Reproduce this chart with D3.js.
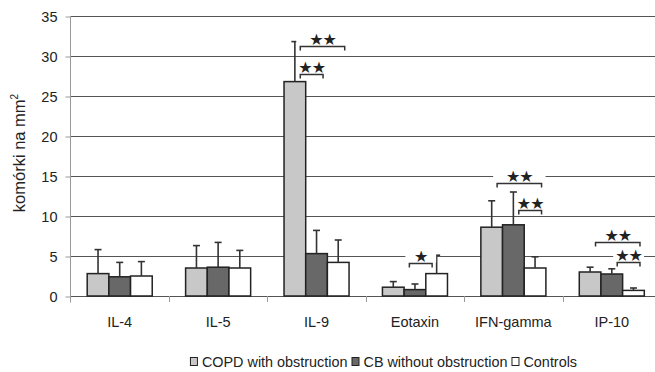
<!DOCTYPE html>
<html>
<head>
<meta charset="utf-8">
<script src="https://cdn.jsdelivr.net/npm/d3@7"></script>
<style>
  body { margin: 0; background: #fff; }
  text { font-family: "Liberation Sans", Arial, sans-serif; fill: #222; }
</style>
</head>
<body>
<div id="chart-area"></div>
<script>
const width = 655, height = 372;
const margin = {left: 70.5, top: 16, bottom: 76};

// data
const categories = ["IL-4", "IL-5", "IL-9", "Eotaxin", "IFN-gamma", "IP-10"];
const series = ["COPD with obstruction", "CB without obstruction", "Controls"];
const copdMean = [2.8, 3.5, 26.8, 1.1, 8.6, 3.0];
const copdErr  = [5.8, 6.3, 31.8, 1.8, 11.9, 3.6];
const cbMean   = [2.4, 3.6, 5.3, 0.8, 8.9, 2.75];
const cbErr    = [4.2, 6.7, 8.2, 1.5, 13.0, 3.4];
const ctrlMean = [2.5, 3.5, 4.2, 2.8, 3.5, 0.7];
const ctrlErr  = [4.3, 5.7, 7.0, 5.1, 4.9, 1.0];
const yTicks = [0, 5, 10, 15, 20, 25, 30, 35];
// significance brackets: category, from, to, level (y units), label
const brackets = [
  {cat: "IL-9", from: 0, to: 2, level: 31.2, label: "★★"},
  {cat: "IL-9", from: 0, to: 1, level: 27.8, label: "★★"},
  {cat: "Eotaxin", from: 1, to: 2, level: 4.1, label: "★", shift: -11},
  {cat: "IFN-gamma", from: 0, to: 2, level: 14.1, label: "★★"},
  {cat: "IFN-gamma", from: 1, to: 2, level: 10.8, label: "★★"},
  {cat: "IP-10", from: 0, to: 2, level: 6.7, label: "★★"},
  {cat: "IP-10", from: 1, to: 2, level: 4.2, label: "★★"}
];

const fills = ["#c8c8c8", "#686868", "#ffffff"];
const means = [copdMean, cbMean, ctrlMean];
const errs = [copdErr, cbErr, ctrlErr];

const rows = [];
categories.forEach((c, i) => {
  series.forEach((s, j) => {
    rows.push({cat: c, s: j, v: means[j][i], e: errs[j][i]});
  });
});

const svg = d3.select("#chart-area").append("svg")
  .attr("width", width)
  .attr("height", height);

// Scales
const x = d3.scaleBand().domain(categories).range([margin.left, 661]);
const xs = d3.scaleBand().domain([0, 1, 2]).range([0, x.bandwidth()]).paddingOuter(0.77);
const y = d3.scaleLinear().domain([0, 35]).range([height - margin.bottom, margin.top]);
const bw = xs.bandwidth();

// Gridlines
svg.append("g")
  .selectAll("line")
  .data(yTicks)
  .join("line")
  .attr("x1", margin.left)
  .attr("x2", width)
  .attr("y1", d => Math.round(y(d)) + 0.5)
  .attr("y2", d => Math.round(y(d)) + 0.5)
  .attr("stroke", "#555")
  .attr("stroke-width", 1);

// Y axis
const yAxis = svg.append("g")
  .attr("transform", "translate(" + margin.left + ",0.5)")
  .call(d3.axisLeft(y).tickValues(yTicks).tickSize(5).tickPadding(8));
yAxis.select(".domain").attr("stroke", "#9a9a9a").attr("d", "M0," + y(35) + "V" + (y(0) + 6));
yAxis.selectAll(".tick line").attr("stroke", "#9a9a9a");
yAxis.selectAll(".tick text")
  .style("font-family", "'Liberation Sans', Arial, sans-serif")
  .style("font-size", "14.5px")
  .attr("fill", "#222");

// Y-Axis label
const yl = svg.append("text")
  .attr("transform", "translate(25,153) rotate(-90)")
  .attr("text-anchor", "middle")
  .style("font-size", "16.5px")
  .text("komórki na mm");
yl.append("tspan")
  .attr("dy", "-7")
  .style("font-size", "10px")
  .text("2");

// X axis ticks at category boundaries
const bounds = categories.map(c => x(c)).concat([x(categories[5]) + x.bandwidth()]);
svg.append("g")
  .selectAll("line")
  .data(bounds.slice(1))
  .join("line")
  .attr("x1", d => Math.round(d) + 0.5)
  .attr("x2", d => Math.round(d) + 0.5)
  .attr("y1", y(0))
  .attr("y2", y(0) + 6)
  .attr("stroke", "#9a9a9a");

svg.append("g")
  .selectAll("text")
  .data(categories)
  .join("text")
  .attr("x", d => x(d) + x.bandwidth() / 2)
  .attr("y", 327)
  .attr("text-anchor", "middle")
  .style("font-size", "14.5px")
  .text(d => d);

// Bars
svg.append("g")
  .selectAll("rect")
  .data(rows)
  .join("rect")
  .attr("x", d => x(d.cat) + xs(d.s))
  .attr("y", d => y(d.v))
  .attr("width", bw)
  .attr("height", d => y(0) - y(d.v))
  .attr("fill", d => fills[d.s])
  .attr("stroke", "#222")
  .attr("stroke-width", 1.5);

// Error bars (upper only)
const eb = svg.append("g")
  .attr("stroke", "#333")
  .attr("stroke-width", 1.6);
eb.selectAll("line.stem")
  .data(rows)
  .join("line")
  .attr("class", "stem")
  .attr("x1", d => x(d.cat) + xs(d.s) + bw / 2)
  .attr("x2", d => x(d.cat) + xs(d.s) + bw / 2)
  .attr("y1", d => y(d.v))
  .attr("y2", d => y(d.e));
eb.selectAll("line.cap")
  .data(rows)
  .join("line")
  .attr("class", "cap")
  .attr("x1", d => x(d.cat) + xs(d.s) + bw / 2 - 3.5)
  .attr("x2", d => x(d.cat) + xs(d.s) + bw / 2 + 3.5)
  .attr("y1", d => y(d.e))
  .attr("y2", d => y(d.e));

// Significance brackets
const starSize = 16;
const bg = svg.append("g");
brackets.forEach(b => {
  const sh = b.shift || 0;
  const x1 = x(b.cat) + xs(b.from) + bw * 0.75 + sh;
  const x2 = x(b.cat) + xs(b.to) + bw * 0.8 + sh;
  const by = Math.round(y(b.level)) + 0.5;
  const cy = by - 7.5;
  bg.append("rect")
    .attr("x", x1 - 4)
    .attr("y", cy - 7)
    .attr("width", x2 - x1 + 8)
    .attr("height", by - 1 - (cy - 7))
    .attr("fill", "#fff");
  bg.append("path")
    .attr("d", "M" + x1 + "," + (by + 4) + "V" + by + "H" + x2 + "V" + (by + 4))
    .attr("fill", "none")
    .attr("stroke", "#333")
    .attr("stroke-width", 1.5);
  bg.append("text")
    .attr("x", (x1 + x2) / 2)
    .attr("y", cy + 5.5)
    .attr("text-anchor", "middle")
    .style("font-family", "'DejaVu Sans', sans-serif")
    .style("font-size", starSize + "px")
    .style("letter-spacing", "-1px")
    .text(b.label);
});

// Legend
const legend = svg.append("g");
let lx = 0;
series.forEach((s, i) => {
  const item = legend.append("g").attr("transform", "translate(" + lx + ",0)");
  item.append("rect")
    .attr("x", 0.5).attr("y", 357.5)
    .attr("width", 7).attr("height", 8)
    .attr("fill", fills[i])
    .attr("stroke", "#222");
  const t = item.append("text")
    .attr("x", 12)
    .attr("y", 366.5)
    .style("font-size", "14.4px")
    .text(s);
  lx += 12 + t.node().getComputedTextLength() + 4;
});
legend.attr("transform", "translate(" + (383.5 - (lx - 4) / 2) + ",0)");
</script>
</body>
</html>
